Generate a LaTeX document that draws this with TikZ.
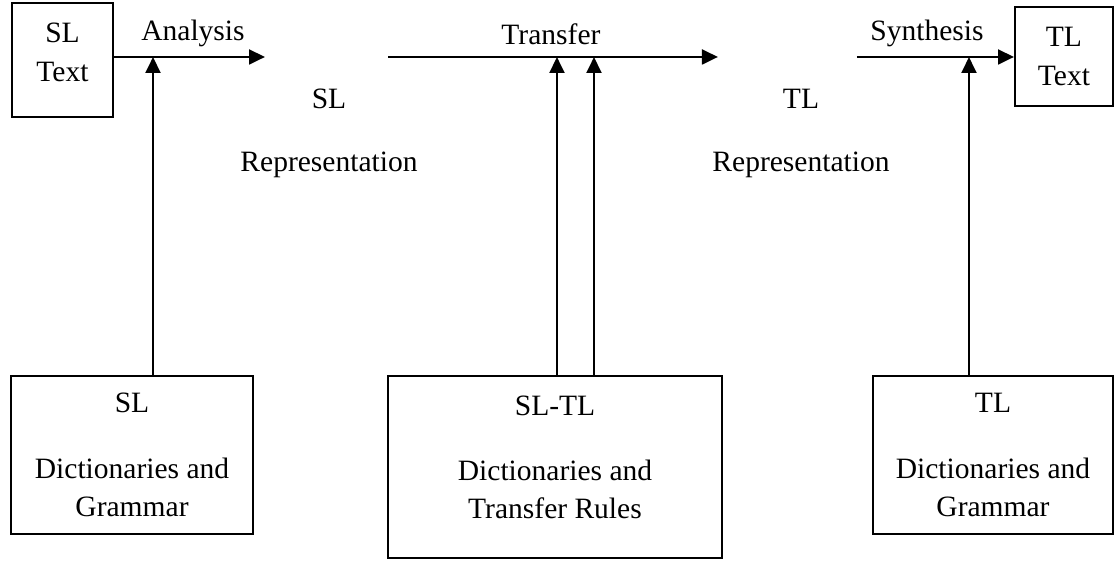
\documentclass[tikz,border=0pt]{standalone}
\usepackage{fontspec}
\setmainfont{Liberation Serif}
\usetikzlibrary{arrows.meta}

\begin{document}
\begin{tikzpicture}[
    font=\fontsize{12}{15.5}\selectfont,
    box/.style={draw, line width=0.8pt, align=center, inner sep=0pt},
    flow/.style={line width=1.1pt, -{Triangle[length=6.5pt,width=6pt]}}
]
    \useasboundingbox (0,0) rectangle (15.929,8.014);

    % Source and target texts
    \node[box, minimum width=1.443cm, minimum height=1.629cm] (sltext) at (0.893,7.157) {SL\\[0.5pt]Text\\[-9pt]\mbox{}};
    \node[box, minimum width=1.4cm, minimum height=1.414cm] (tltext) at (15.2,7.207) {TL\\Text};

    % Intermediate representations
    \node[align=center] (slrep) at (4.7,6.107) {SL\\[10pt]Representation};
    \node[align=center] (tlrep) at (11.443,6.107) {TL\\[10pt]Representation};

    % Resources
    \node[box, minimum width=3.457cm, minimum height=2.257cm] (sldict) at (1.886,1.514) {SL\\[11pt]Dictionaries and\\Grammar};
    \node[box, minimum width=4.771cm, minimum height=2.6cm] (sltldict) at (7.929,1.343) {SL-TL\\[11pt]Dictionaries and\\Transfer Rules\\[-7.5pt]\mbox{}};
    \node[box, minimum width=3.429cm, minimum height=2.257cm] (tldict) at (14.186,1.514) {TL\\[11pt]Dictionaries and\\Grammar};

    % Ends of the main line
    \coordinate (anaend) at (3.786,7.2);
    \coordinate (trstart) at (5.543,7.2);
    \coordinate (trend) at (10.257,7.2);
    \coordinate (synstart) at (12.243,7.2);

    % Where the resources meet the main line
    \coordinate (slhit) at (2.186,7.2);
    \coordinate (sltlhitA) at (7.957,7.2);
    \coordinate (sltlhitB) at (8.486,7.2);
    \coordinate (tlhit) at (13.843,7.2);

    % Analysis, transfer, synthesis
    \draw[flow] (sltext.east |- anaend) -- (anaend);
    \draw[flow] (trstart) -- (trend);
    \draw[flow] (synstart) -- (tltext.west |- synstart);
    \node (analysis) at (2.757,7.53) {Analysis};
    \node (transfer) at (7.871,7.53) {Transfer};
    \node (synthesis) at (13.243,7.53) {Synthesis};

    % Resources feeding each step
    \draw[flow] (sldict.north -| slhit) -- (slhit);
    \draw[flow] (sltldict.north -| sltlhitA) -- (sltlhitA);
    \draw[flow] (sltldict.north -| sltlhitB) -- (sltlhitB);
    \draw[flow] (tldict.north -| tlhit) -- (tlhit);

\end{tikzpicture}
\end{document}
